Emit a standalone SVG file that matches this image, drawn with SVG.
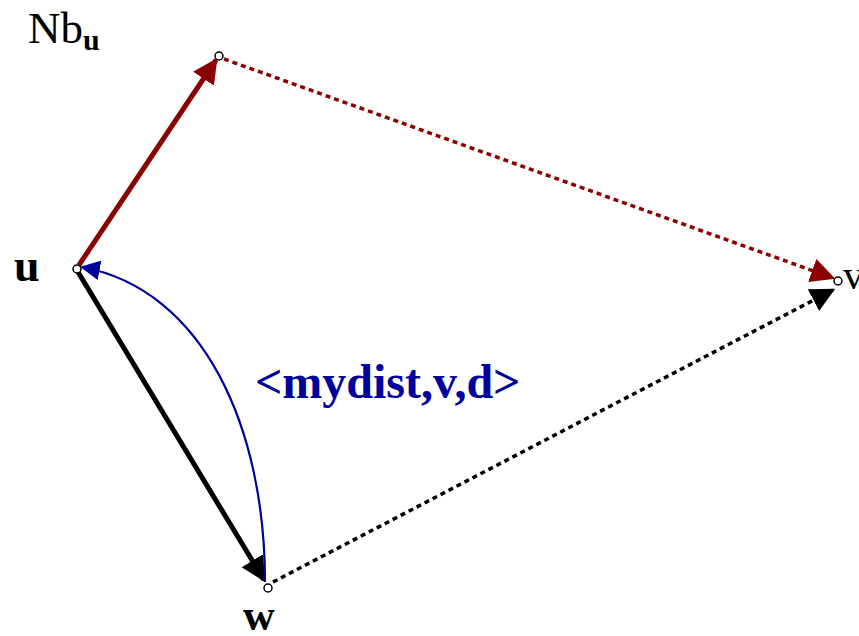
<svg xmlns="http://www.w3.org/2000/svg" width="859" height="636" viewBox="0 0 859 636">
<defs>
<style>
.lbl{font-family:"Liberation Serif","Times New Roman",serif;fill:#000}
.node circle{fill:#fff;stroke:#000;stroke-width:1.5}
</style>
<marker id="hr" viewBox="0 0 10 10" refX="9" refY="5" markerWidth="5" markerHeight="5" orient="auto" markerUnits="strokeWidth"><path d="M0,0 L10,5 L0,10 Z" fill="#8b0000"/></marker>
<marker id="hrd" viewBox="0 0 10 10" refX="9" refY="5" markerWidth="7" markerHeight="7" orient="auto" markerUnits="strokeWidth"><path d="M0,0 L10,5 L0,10 Z" fill="#8b0000"/></marker>
<marker id="hk" viewBox="0 0 10 10" refX="9" refY="5" markerWidth="5" markerHeight="5" orient="auto" markerUnits="strokeWidth"><path d="M0,0 L10,5 L0,10 Z" fill="#000"/></marker>
<marker id="hkd" viewBox="0 0 10 10" refX="9" refY="5" markerWidth="7" markerHeight="7" orient="auto" markerUnits="strokeWidth"><path d="M0,0 L10,5 L0,10 Z" fill="#000"/></marker>
<marker id="hb" viewBox="0 0 10 10" refX="9" refY="5" markerWidth="9" markerHeight="9" orient="auto" markerUnits="strokeWidth"><path d="M0,0 L10,5 L0,10 Z" fill="#00009c"/></marker>
</defs>
<rect width="859" height="636" fill="#fff"/>
<g id="connectors" fill="none">
<line x1="79" y1="265" x2="216" y2="60" stroke="#8b0000" stroke-width="5" marker-end="url(#hr)"/>
<line x1="224" y1="59" x2="833" y2="278" stroke="#8b0000" stroke-width="3.5" stroke-dasharray="5,4" marker-end="url(#hrd)"/>
<line x1="78" y1="272" x2="264" y2="580" stroke="#000" stroke-width="5" marker-end="url(#hk)"/>
<line x1="273" y1="582" x2="833" y2="290" stroke="#000" stroke-width="3.5" stroke-dasharray="5,4" marker-end="url(#hkd)"/>
<path d="M265,582 C265,430 205,290 82,267" stroke="#00009c" stroke-width="2.2" marker-end="url(#hb)"/>
</g>
<g id="node-nb" class="node"><circle cx="219" cy="56" r="4"/></g>
<g id="node-u" class="node"><circle cx="77" cy="269" r="4"/><text class="lbl" x="14" y="281" font-size="46" font-weight="bold">u</text></g>
<g id="node-v" class="node"><circle cx="838" cy="281" r="4"/><text class="lbl" x="843" y="289" font-size="42">v</text></g>
<g id="node-w" class="node"><circle cx="268" cy="588" r="4"/><text class="lbl" x="243" y="630" font-size="44" font-weight="bold">w</text></g>
<g id="label-nbu"><text class="lbl" x="28" y="43" font-size="45">Nb<tspan font-size="30" font-weight="bold" dy="7">u</tspan></text></g>
<g id="label-msg"><text x="255" y="398" font-family="Liberation Serif,'Times New Roman',serif" font-size="48" font-weight="bold" fill="#00009c">&lt;mydist,v,d&gt;</text></g>
</svg>
